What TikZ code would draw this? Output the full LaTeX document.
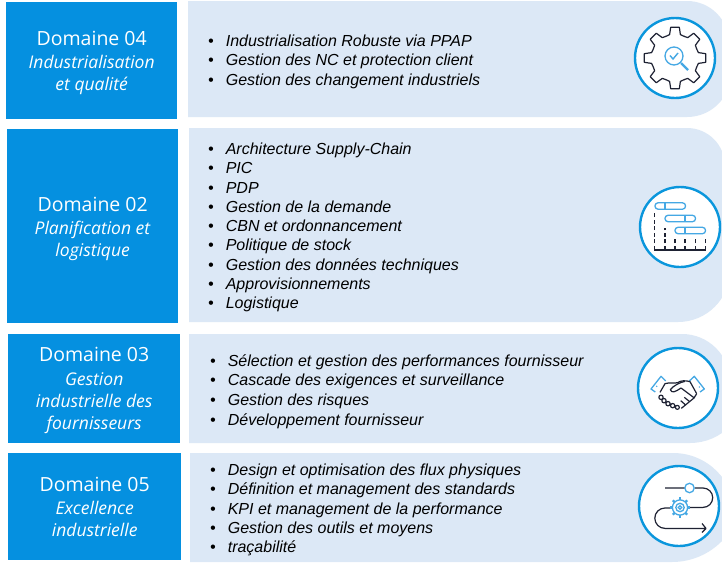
\documentclass[tikz,border=0pt]{standalone}
\usepackage{fontspec}
\setmainfont{Liberation Sans}
\newfontfamily\headfont{Open Sans}
\definecolor{hblue}{HTML}{0590E0}
\definecolor{pblue}{HTML}{DCE8F6}
\definecolor{ring}{HTML}{0A96DC}
\definecolor{lblue}{HTML}{45A8E4}
\definecolor{dark}{HTML}{1E2233}
\tikzset{
 x=1pt,y=-1pt,
 headbox/.style={fill=hblue,draw=none,anchor=north west,inner sep=0pt,align=center,text=white,font=\headfont\fontsize{17.5}{22}\selectfont},
 panel/.style={fill=pblue,draw=none},
 bul/.style={anchor=west,inner sep=0pt,align=left,font=\fontsize{16}{19.6}\selectfont\itshape,text=black},
 iconring/.style={circle,draw=ring,fill=white,line width=2.4pt,minimum size=80pt,inner sep=0pt},
 darkline/.style={draw=dark,line width=1.2pt,line join=round},
 blueline/.style={draw=lblue,line width=1.3pt},
}
\newcommand{\hd}[2][0pt]{{\fontsize{19.5}{22}\selectfont\rule{0pt}{#1}#2}}
\newcommand{\bu}{\textbullet\hspace{12pt}}
% x0, ytop, ybot, top start x, top radius, bottom start x, bottom radius
\newcommand{\panelshape}[7]{%
 \fill[panel] (#1,#2) -- (#4,#2) arc[start angle=-90,end angle=0,radius=#5]
  -- ({#6+#7},{#3-#7}) arc[start angle=0,end angle=90,radius=#7] -- (#1,#3) -- cycle;}
\begin{document}
\begin{tikzpicture}
\useasboundingbox (0,0) rectangle (722,562);
\fill[white] (0,0) rectangle (722,562);
\begin{scope}
\clip (0,0) rectangle (722,562);
\panelshape{188}{1}{117}{687}{42}{687}{44}
\panelshape{189}{128}{322}{687}{38}{678}{52}
\panelshape{189}{334}{443}{682}{48}{690}{56}
\panelshape{190}{453}{562}{673}{62}{672}{70}
\end{scope}
\node[headbox,minimum width=171pt,minimum height=117pt] (h4) at (6,2) {\hd[19pt]{Domaine 04}\\[1.5pt]\textit{Industrialisation}\\\textit{et qualité}};
\node[headbox,minimum width=171pt,minimum height=194pt] (h2) at (7,129) {\hd[20pt]{Domaine 02}\\[1.5pt]\textit{Planification et}\\\textit{logistique}};
\node[headbox,minimum width=172pt,minimum height=109pt] (h3) at (8,334) {\hd[18pt]{Domaine 03}\\[1.5pt]\textit{Gestion}\\\textit{industrielle des}\\\textit{fournisseurs}};
\node[headbox,minimum width=173pt,minimum height=107pt] (h5) at (8,453) {\hd{Domaine 05}\\[1.5pt]\textit{Excellence}\\\textit{industrielle}};
\node[bul] (l4) at (208,61.5) {\bu Industrialisation Robuste via PPAP\\\bu Gestion des NC et protection client\\\bu Gestion des changement industriels};
\node[bul,font=\fontsize{16}{19.25}\selectfont\itshape] (l2) at (208,227.5) {\bu Architecture Supply-Chain\\\bu PIC\\\bu PDP\\\bu Gestion de la demande\\\bu CBN et ordonnancement\\\bu Politique de stock\\\bu Gestion des données techniques\\\bu Approvisionnements\\\bu Logistique};
\node[bul] (l3) at (210,391.5) {\bu Sélection et gestion des performances fournisseur\\\bu Cascade des exigences et surveillance\\\bu Gestion des risques\\\bu Développement fournisseur};
\node[bul,font=\fontsize{16}{19.25}\selectfont\itshape] (l5) at (210,510) {\bu Design et optimisation des flux physiques\\\bu Définition et management des standards\\\bu KPI et management de la performance\\\bu Gestion des outils et moyens\\\bu traçabilité};
% rings
\node[iconring] (i4) at (675,58) {};
\node[iconring] (i2) at (680,227) {};
\node[iconring] (i3) at (678,388) {};
\node[iconring] (i5) at (679,506) {};
% gear icon
\begin{scope}[shift={(675,58)}]
\foreach \a in {0,45,...,315}{
 \draw[darkline] ({\a-22.5}:23.5) -- ({\a-13}:24) -- ({\a-8}:31) -- ({\a+8}:31) -- ({\a+13}:24) -- ({\a+22.5}:23.5);
}
\draw[blueline] (-1,-2) circle (9);
\draw[blueline,line width=1.4pt] (-5,-2.5) -- (-2,1) -- (3,-5);
\draw[blueline,line width=2.4pt] (6,5) -- (13,12);
\end{scope}
% gantt icon
\begin{scope}[shift={(600,130)}]
\foreach \xa/\xb/\xc/\yy in {55/85.5/65/76,65/95.5/85/88.5,75/105.5/85/100.5}{
 \draw[blueline,rounded corners=3pt] (\xa,\yy-3.2) rectangle (\xb,\yy+3.2);
 \draw[blueline] (\xc,\yy-3.2) -- (\xc,\yy+3.2);
}
\foreach \xx/\ys in {54.7/81,65/98,75/108,85/108,95.5/108,105.5/108}{
 \draw[dark,line width=1.2pt,dash pattern=on 4pt off 2.6pt] (\xx,120) -- (\xx,\ys);
}
\draw[dark,line width=1.2pt] (54.2,120) -- (106,120);
\end{scope}
% handshake icon
\begin{scope}[shift={(645,365)},x=0.3333pt,y=-0.3333pt]
\draw[lblue,line width=1.3pt,line join=round] (62,48) -- (48,34) -- (18,72) -- (31,81);
\draw[lblue,line width=1.3pt,line join=round] (133,48) -- (148,34) -- (178,72) -- (165,81);
\fill[lblue] (35,64) circle (2.5) (163,66) circle (2.5);
\draw[darkline] (45,82) -- (60,56) .. controls (72,52) and (85,56) .. (98,53) .. controls (108,46) and (122,46) .. (135,50) -- (155,86);
\draw[darkline] (120,49) .. controls (105,52) and (85,62) .. (76,74) .. controls (80,86) and (92,80) .. (108,69) -- (148,99);
\draw[darkline] (155,86) -- (147,99) -- (109,130);
\draw[darkline] (48,97) circle (6.5) (57,107) circle (6.5) (69,116) circle (6.5) (83,122) circle (6.5) (97,127) circle (6);
\draw[darkline] (134,110) -- (118,97) (122,120) -- (107,107);
\end{scope}
% flow icon
\begin{scope}[shift={(600,450)}]
\draw[darkline] (65,38) -- (85,38) (95,38) -- (103,38) arc[start angle=-90,end angle=90,radius=9.7] -- (90,57.4)
 (70,58) -- (65,58) arc[start angle=-90,end angle=-270,radius=10.2] -- (106,78.4)
 (102,73.5) -- (106,78.4) -- (102,82.5);
\draw[blueline] (89.5,38) circle (4.7);
\draw[blueline] (80,57.5) circle (4.2) (80,57.5) circle (1.8);
\foreach \a in {0,45,...,315}{\draw[lblue,line width=2.4pt] (80,57.5) ++(\a:7.5) -- ++(\a:2.6);}
\draw[blueline] (80,57.5) circle (7.6);
\end{scope}
\end{tikzpicture}
\end{document}
